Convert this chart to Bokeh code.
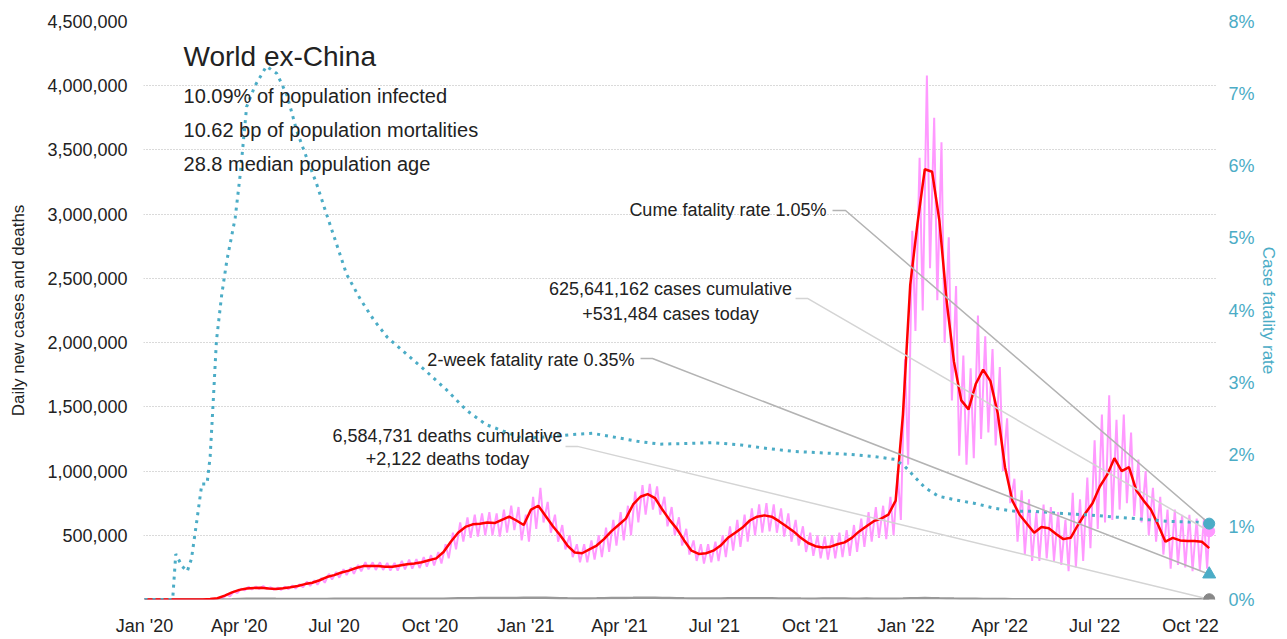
import pandas as pd
from bokeh.plotting import figure
from bokeh.models import (Label, Range1d, LinearAxis, FixedTicker,
                          NumeralTickFormatter, PrintfTickFormatter)
from bokeh.embed import file_html
from bokeh.resources import INLINE

# ---------------- data ----------------
START = "2020-01-01"

# weekly 7-day-average new cases (thousands), one value per week from START
red_k = [
    0, 0, 0, 0, 0, 0, 0, 0, 0, 3,
    10, 30, 55, 75, 85, 90, 92, 85, 82, 88,
    95, 105, 120, 130, 150, 175, 190, 210, 225, 245,
    260, 260, 260, 255, 255, 265, 275, 280, 290, 305,
    320, 370, 450, 520, 565, 585, 590, 600, 595, 620,
    645, 615, 580, 700, 730, 650, 570, 500, 420, 365,
    360, 390, 420, 470, 530, 580, 630, 740, 800, 820,
    790, 700, 620, 550, 460, 380, 355, 360, 380, 420,
    480, 520, 560, 615, 645, 655, 645, 610, 570, 530,
    480, 440, 415, 405, 410, 430, 445, 480, 530, 570,
    610, 630, 660, 770, 1440, 2450, 2930, 3350, 3330, 2950,
    2320, 1850, 1550, 1480, 1680, 1790, 1700, 1450, 1030, 770,
    660, 590, 520, 565, 555, 510, 470, 480, 580, 670,
    750, 880, 970, 1100, 1000, 1030, 850, 770, 700, 580,
    450, 480, 460, 455, 455, 450, 400]

# daily new cases (thousands): weekly high and weekly low
pink_hi = [
    0, 0, 0, 0, 0, 0, 0, 0, 0, 5,
    15, 40, 65, 85, 100, 100, 105, 95, 92, 100,
    110, 120, 140, 150, 170, 200, 215, 235, 250, 270,
    290, 290, 290, 285, 285, 300, 310, 315, 330, 345,
    370, 430, 520, 600, 640, 660, 670, 680, 670, 700,
    730, 720, 660, 800, 870, 760, 660, 580, 500, 430,
    430, 460, 500, 560, 620, 680, 730, 840, 890, 900,
    880, 800, 720, 640, 550, 460, 430, 430, 450, 500,
    570, 620, 660, 710, 740, 750, 740, 710, 670, 620,
    570, 520, 500, 490, 500, 520, 540, 580, 630, 680,
    720, 730, 800, 980, 1870, 2870, 3440, 4080, 3750, 3560,
    2820, 2440, 1900, 1800, 2210, 2050, 1950, 1810, 1410, 940,
    850, 780, 680, 740, 720, 680, 620, 830, 780, 950,
    1240, 1440, 1590, 1400, 1440, 1300, 1090, 1000, 870, 800,
    700, 700, 660, 660, 630, 630]
pink_lo = [
    0, 0, 0, 0, 0, 0, 0, 0, 0, 2,
    8, 25, 50, 70, 78, 82, 83, 77, 75, 80,
    85, 95, 105, 115, 130, 155, 170, 190, 200, 220,
    235, 230, 230, 225, 225, 235, 240, 245, 255, 265,
    280, 320, 390, 450, 480, 490, 500, 500, 490, 520,
    540, 460, 450, 550, 600, 520, 450, 390, 330, 290,
    290, 310, 330, 370, 420, 460, 500, 600, 660, 700,
    660, 570, 500, 420, 350, 300, 280, 290, 300, 330,
    380, 410, 450, 500, 520, 530, 520, 490, 450, 420,
    370, 340, 320, 310, 320, 330, 340, 370, 410, 450,
    480, 470, 500, 620, 1050, 2090, 2250, 2580, 2330, 2000,
    1550, 1120, 1050, 1100, 1250, 1300, 1200, 1000, 750, 450,
    350, 300, 300, 320, 300, 270, 220, 250, 300, 400,
    550, 600, 620, 700, 750, 650, 600, 500, 450, 350,
    240, 270, 250, 220, 230, 240]
cases_today = 531484

# weekly daily deaths (thousands)
deaths_k = [
    0, 0, 0, 0, 0, 0, 0, 0.01, 0.02, 0.05,
    0.15, 0.5, 1.8, 4.0, 5.8, 6.5, 6.0, 5.5, 5.0, 4.6,
    4.3, 4.2, 4.2, 4.4, 4.6, 4.8, 5.0, 5.2, 5.4, 5.6,
    5.7, 5.8, 5.7, 5.6, 5.5, 5.5, 5.3, 5.3, 5.4, 5.6,
    6.0, 6.8, 8.0, 9.2, 10.0, 10.4, 10.8, 11.0, 11.2, 11.0,
    10.8, 11.5, 12.8, 13.8, 14.0, 13.0, 11.5, 10.0, 9.0, 8.5,
    8.4, 8.6, 9.0, 9.8, 10.8, 11.8, 12.4, 13.0, 13.8, 13.7,
    13.0, 12.0, 11.0, 10.0, 9.2, 8.5, 8.0, 7.8, 8.0, 8.5,
    9.0, 9.6, 10.0, 10.2, 10.0, 9.6, 9.0, 8.4, 7.8, 7.4,
    7.0, 6.8, 6.8, 7.0, 7.2, 7.2, 7.0, 6.8, 6.8, 6.9,
    6.6, 6.4, 6.3, 6.8, 8.0, 9.5, 10.5, 10.8, 10.2, 9.0,
    8.0, 7.0, 6.2, 5.5, 5.0, 4.5, 4.0, 3.6, 3.2, 2.8,
    2.5, 2.2, 2.0, 1.9, 1.8, 1.8, 1.9, 2.0, 2.2, 2.4,
    2.6, 2.8, 2.9, 2.9, 2.8, 2.6, 2.4, 2.2, 2.0, 1.9,
    1.8, 1.7, 1.6, 1.6, 1.5, 1.5, 2.122]
deaths_today = 2122

# case fatality rate (%)
cfr_dates = [
    "2020-01-01", "2020-01-28", "2020-01-31", "2020-02-06", "2020-02-11", "2020-02-15",
    "2020-02-20", "2020-02-25", "2020-03-01", "2020-03-04", "2020-03-07", "2020-03-10",
    "2020-03-15", "2020-03-20", "2020-03-28", "2020-04-02", "2020-04-08", "2020-04-16",
    "2020-04-27", "2020-05-07", "2020-05-17", "2020-05-26", "2020-06-05", "2020-06-14",
    "2020-06-24", "2020-07-04", "2020-07-13", "2020-07-26", "2020-08-08", "2020-08-21",
    "2020-09-09", "2020-09-28", "2020-10-17", "2020-11-05", "2020-11-24", "2020-12-07",
    "2020-12-29", "2021-01-21", "2021-02-12", "2021-03-06", "2021-03-26", "2021-04-18",
    "2021-05-10", "2021-06-05", "2021-06-30", "2021-07-26", "2021-08-21", "2021-09-15",
    "2021-10-11", "2021-11-06", "2021-12-01", "2021-12-21", "2021-12-31", "2022-01-09",
    "2022-01-19", "2022-02-01", "2022-02-17", "2022-03-08", "2022-03-28", "2022-04-16",
    "2022-05-05", "2022-05-31", "2022-06-26", "2022-07-22", "2022-08-17", "2022-09-12",
    "2022-10-08", "2022-10-19"]
cfr_pct = [
    0, 0, 0.63, 0.46, 0.39, 0.56,
    1.07, 1.60, 1.60, 1.98, 2.76, 3.58,
    4.21, 4.69, 5.28, 5.90, 6.82, 7.11,
    7.38, 7.28, 6.97, 6.49, 6.10, 5.76,
    5.32, 4.89, 4.50, 4.16, 3.87, 3.63,
    3.39, 3.15, 2.90, 2.62, 2.42, 2.35,
    2.23, 2.25, 2.28, 2.30, 2.25, 2.19,
    2.15, 2.16, 2.17, 2.14, 2.09, 2.05,
    2.03, 2.01, 1.98, 1.94, 1.84, 1.70,
    1.55, 1.43, 1.38, 1.33, 1.26, 1.22,
    1.22, 1.19, 1.17, 1.14, 1.11, 1.08,
    1.07, 1.05]
cfr_2wk = 0.35

tick_dates = ["2020-01-01", "2020-04-01", "2020-07-01", "2020-10-01",
              "2021-01-01", "2021-04-01", "2021-07-01", "2021-10-01",
              "2022-01-01", "2022-04-01", "2022-07-01", "2022-10-01"]
tick_labels = ["Jan '20", "Apr '20", "Jul '20", "Oct '20",
               "Jan '21", "Apr '21", "Jul '21", "Oct '21",
               "Jan '22", "Apr '22", "Jul '22", "Oct '22"]
left_ticks = [500000, 1000000, 1500000, 2000000, 2500000,
              3000000, 3500000, 4000000, 4500000]
right_ticks = [0, 1, 2, 3, 4, 5, 6, 7, 8]

title_text = "World ex-China"
subtitle_lines = ["10.09% of population infected",
                  "10.62 bp of population mortalities",
                  "28.8 median population age"]

# ---------------- helpers ----------------
t0 = pd.Timestamp(START)


def day(d):
    return (pd.Timestamp(d) - t0).days


red_x = [7 * i for i in range(len(red_k))]
red_y = [v * 1000 for v in red_k]
last_day = red_x[-1]

pink_x, pink_y = [], []
for i, (hi, lo) in enumerate(zip(pink_hi, pink_lo)):
    pink_x += [7 * i + 2, 7 * i + 5]
    pink_y += [hi * 1000, lo * 1000]
pink_x.append(last_day)
pink_y.append(cases_today)

death_x = [7 * i for i in range(len(deaths_k))]
death_y = [v * 1000 for v in deaths_k]

cfr_x = [day(d) for d in cfr_dates]

FONT = "Liberation Sans"
CYAN = "#4bacc6"
PINK = "#ff99ff"
TXT = "#222222"

# ---------------- figure ----------------
p = figure(width=1285, height=638,
           x_range=Range1d(-1, 1029), y_range=Range1d(0, 4500000),
           output_backend="svg", toolbar_location=None,
           min_border_left=143, min_border_right=69,
           min_border_top=21, min_border_bottom=39)
p.extra_y_ranges = {"cfr": Range1d(0, 8)}
p.outline_line_color = None
p.background_fill_color = "white"
p.border_fill_color = "white"

# x axis
xa = p.xaxis[0]
xa.ticker = FixedTicker(ticks=[day(d) for d in tick_dates])
xa.major_label_overrides = {day(d): lab for d, lab in zip(tick_dates, tick_labels)}
# left axis
ya = p.yaxis[0]
ya.ticker = FixedTicker(ticks=left_ticks)
ya.formatter = NumeralTickFormatter(format="0,0")
ya.axis_label = "Daily new cases and deaths"
ya.axis_label_standoff = 16
ya.major_label_standoff = 16
# right axis
ra = LinearAxis(y_range_name="cfr", ticker=FixedTicker(ticks=right_ticks),
                formatter=PrintfTickFormatter(format="%d%%"))
ra.axis_label = "Case fatality rate"
ra.axis_label_standoff = 1
ra.major_label_standoff = 12
p.add_layout(ra, "right")

for ax in [xa, ya, ra]:
    ax.axis_line_color = None
    ax.major_tick_line_color = None
    ax.minor_tick_line_color = None
    ax.major_tick_out = 0
    ax.major_label_text_font = FONT
    ax.major_label_text_font_size = "18px"
    ax.major_label_text_color = TXT
    ax.axis_label_text_font = FONT
    ax.axis_label_text_font_size = "17px"
    ax.axis_label_text_font_style = "normal"
    ax.axis_label_text_color = TXT
xa.major_label_standoff = 16
ra.major_label_text_color = CYAN
ra.axis_label_text_color = CYAN

p.xgrid.visible = False
p.ygrid.grid_line_color = "#b5b5b5"
p.ygrid.grid_line_dash = "1 2"
p.ygrid.grid_line_width = 1

# ---------------- series ----------------
p.line(pink_x, pink_y, line_color=PINK, line_width=2)
p.line(death_x, death_y, line_color="#999999", line_width=2.5)
p.line(red_x, red_y, line_color="#ff0000", line_width=2.5)
p.line(cfr_x, cfr_pct, y_range_name="cfr", line_color=CYAN,
       line_width=3, line_dash="3 5")

# ---------------- leaders ----------------
p.line([660.4, 672.9, last_day], [5.384, 5.384, cfr_pct[-1]], y_range_name="cfr",
       line_color="#b3b3b3", line_width=1.5)
p.line([624.9, 636.4, last_day], [2344000, 2344000, cases_today],
       line_color="#d4d4d4", line_width=1.5)
p.line([476.1, 487.6, last_day], [3.336, 3.336, cfr_2wk], y_range_name="cfr",
       line_color="#b3b3b3", line_width=1.5)
p.line([404.1, 415.6, last_day], [1192000, 1192000, deaths_today],
       line_color="#d4d4d4", line_width=1.5)

# ---------------- end markers ----------------
p.scatter([last_day], [cases_today], marker="circle", size=11, color=PINK)
p.scatter([last_day], [cfr_pct[-1]], y_range_name="cfr", marker="circle", size=11, color=CYAN)
p.scatter([last_day], [cfr_2wk], y_range_name="cfr", marker="triangle", size=13, color=CYAN)
p.scatter([last_day], [deaths_today], marker="circle", size=11, color="#888888")

# ---------------- texts ----------------
def lab(x, y, text, size, align="left"):
    p.add_layout(Label(x=x, y=y, text=text, text_font=FONT, text_font_size=size,
                       text_color=TXT, text_align=align, text_baseline="middle"))


lab(37.4, 4229000, title_text, "28px")
for yv, s in zip([3920000, 3653000, 3388000], subtitle_lines):
    lab(37.4, yv, s, "20px")

lab(654.6, 3030000, "Cume fatality rate 1.05%", "18px", "right")
lab(504.9, 2414000, "625,641,162 cases cumulative", "18px", "center")
lab(504.9, 2220000, "+531,484 cases today", "18px", "center")
lab(470.3, 1861000, "2-week fatality rate 0.35%", "18px", "right")
lab(290.8, 1273000, "6,584,731 deaths cumulative", "18px", "center")
lab(290.8, 1090000, "+2,122 deaths today", "18px", "center")

open("out.html", "w").write(file_html(p, INLINE))
